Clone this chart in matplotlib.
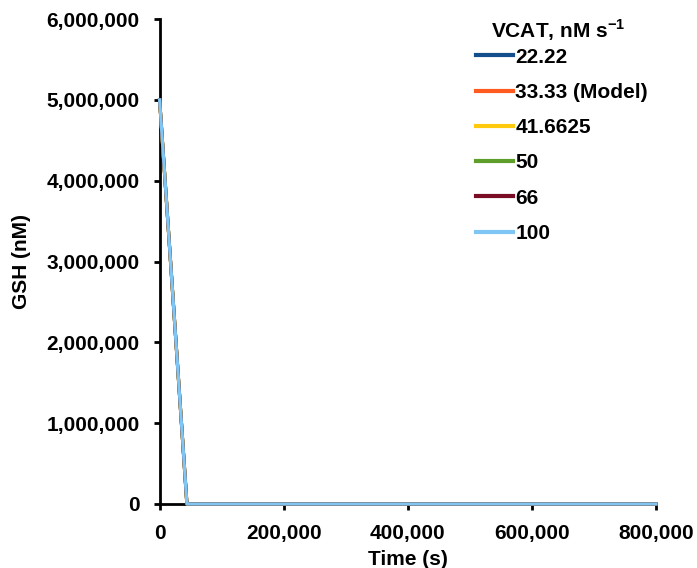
import matplotlib
matplotlib.use("Agg")
import matplotlib.pyplot as plt
from matplotlib.ticker import FuncFormatter

plt.rcParams['font.family'] = ['Liberation Sans', 'DejaVu Sans']
plt.rcParams['font.weight'] = 'bold'
plt.rcParams['mathtext.fontset'] = 'custom'
plt.rcParams['mathtext.rm'] = 'Liberation Sans'
plt.rcParams['mathtext.bf'] = 'Liberation Sans:bold'

# Data
time_s = [0, 44000, 800000]
labels = ["22.22", "33.33 (Model)", "41.6625", "50", "66", "100"]
colors = ["#134F8C", "#FF5A1F", "#FFC90E", "#5E9E2A", "#7A0D25", "#7FC6F5"]
gsh = [
    [5000000, 0, 0],
    [5000000, 0, 0],
    [5000000, 0, 0],
    [5000000, 0, 0],
    [5000000, 0, 0],
    [5000000, 0, 0],
]

fs = 15

fig = plt.figure(figsize=(6.97, 5.68), dpi=100)
ax = fig.add_axes([0.229, 0.1127, 0.712, 0.8538])

for lab, col, vals in zip(labels, colors, gsh):
    ax.plot(time_s, vals, color=col, lw=2.3, label=lab, zorder=3, clip_on=False)

ax.set_xlim(0, 800000)
ax.set_ylim(0, 6000000)
ax.set_xticks([0, 200000, 400000, 600000, 800000])
ax.set_yticks(range(0, 6000001, 1000000))
fmt = FuncFormatter(lambda v, p: f"{int(v):,}")
ax.xaxis.set_major_formatter(fmt)
ax.yaxis.set_major_formatter(fmt)

for s in ['top', 'right']:
    ax.spines[s].set_visible(False)
for s in ['left', 'bottom']:
    ax.spines[s].set_linewidth(2)
ax.tick_params(direction='out', width=2, length=4.5, pad=10, labelsize=fs)
for t in ax.get_xticklabels() + ax.get_yticklabels():
    t.set_fontweight('bold')

ax.set_xlabel("Time (s)", fontsize=fs, fontweight='bold', labelpad=5)
ax.set_ylabel("GSH (nM)", fontsize=fs, fontweight='bold', labelpad=11)

fig.text(0.8006, 0.947, "VCAT, nM s$^{\\mathbf{-1}}$", fontsize=fs,
         fontweight='bold', ha='center', va='center')
leg = ax.legend(loc='upper left',
                bbox_to_anchor=(0.683, 0.916), bbox_transform=fig.transFigure,
                frameon=False, fontsize=fs,
                handlelength=1.78, handletextpad=0.1, labelspacing=0.78,
                borderaxespad=0, borderpad=0)
for t in leg.get_texts():
    t.set_fontweight('bold')
for h in leg.get_lines():
    h.set_linewidth(3)

fig.savefig("out.png", dpi=100)
